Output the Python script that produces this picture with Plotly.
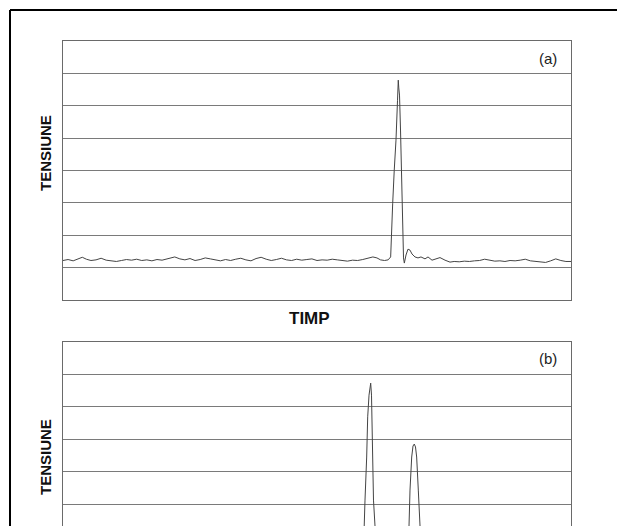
import plotly.graph_objects as go

# ---- Panel (a) data: time (0-100) vs voltage (grid units 0-8) ----
time_a = [0, 1.0, 2.0, 3.0, 3.8, 4.6, 5.5, 6.5, 7.5, 8.5, 9.5, 10.5, 11.5, 12.5, 13.5, 14.5,
          15.5, 16.5, 17.5, 18.5, 19.5, 20.5, 21.0, 22.0, 23.0, 24.0, 25.0, 26.0, 27.0, 28.0,
          29.0, 30.0, 31.0, 32.0, 33.0, 34.0, 35.0, 36.0, 37.0, 38.0, 39.0, 40.0, 41.0, 42.0,
          43.0, 44.0, 45.0, 46.0, 47.0, 48.0, 49.0, 50.0, 51.0, 52.0, 53.0, 54.0, 55.0, 56.0,
          57.0, 58.0, 59.0, 60.0, 61.0, 61.8, 62.5, 63.3, 64.0, 64.5, 64.7, 64.9, 65.2, 65.55,
          65.85, 66.0, 66.1, 66.24, 66.44, 66.63, 66.83, 67.03, 67.19, 67.52, 67.91, 68.31,
          68.7, 69.29, 69.88, 70.47, 71.26, 71.85, 72.64, 73.43, 74.21, 75.2, 76.18, 77.0, 78.0,
          79.0, 80.0, 81.0, 82.0, 83.0, 84.0, 85.0, 86.0, 87.0, 88.0, 89.0, 90.0, 91.0, 92.0,
          93.0, 94.0, 95.0, 96.0, 97.0, 98.0, 99.0, 100.0]
volt_a = [1.22, 1.25, 1.21, 1.27, 1.32, 1.26, 1.22, 1.24, 1.29, 1.23, 1.20, 1.19, 1.22, 1.25,
          1.23, 1.26, 1.22, 1.24, 1.21, 1.25, 1.23, 1.27, 1.31, 1.33, 1.27, 1.24, 1.28, 1.22,
          1.25, 1.30, 1.27, 1.23, 1.21, 1.25, 1.22, 1.26, 1.29, 1.24, 1.21, 1.28, 1.32, 1.26,
          1.22, 1.25, 1.29, 1.24, 1.22, 1.26, 1.23, 1.25, 1.27, 1.22, 1.24, 1.23, 1.26, 1.24,
          1.21, 1.20, 1.23, 1.22, 1.25, 1.29, 1.33, 1.30, 1.24, 1.22, 1.24, 1.33, 1.94, 2.99,
          4.00, 4.94, 6.17, 6.79, 6.55, 6.33, 5.25, 3.70, 2.16, 1.30, 1.14, 1.39, 1.57, 1.54,
          1.42, 1.33, 1.30, 1.33, 1.27, 1.33, 1.23, 1.27, 1.31, 1.23, 1.17, 1.19, 1.18, 1.20,
          1.19, 1.21, 1.22, 1.26, 1.22, 1.20, 1.21, 1.19, 1.22, 1.21, 1.23, 1.26, 1.21, 1.20,
          1.18, 1.16, 1.21, 1.27, 1.22, 1.19, 1.19]

# ---- Panel (b) data ----
time_b = [0, 10, 20, 30, 40, 50, 55, 58.86, 59.15, 59.35, 59.45, 59.78, 59.98, 60.24, 60.57,
          60.73, 60.83, 60.96, 61.12, 61.42, 61.71, 62.01, 64, 67.52, 67.91, 68.11, 68.31,
          68.64, 68.9, 69.15, 69.39, 69.62, 69.94, 70.18, 70.47, 70.87, 75, 85, 100]
volt_b = [1.22, 1.25, 1.21, 1.24, 1.23, 1.26, 1.22, 1.25, 1.60, 2.32, 3.12, 4.45, 5.69, 6.36,
          6.73, 6.36, 5.69, 4.45, 3.12, 2.32, 1.50, 1.20, 1.24, 1.25, 1.80, 2.32, 3.43, 4.45,
          4.79, 4.85, 4.76, 4.45, 3.43, 2.32, 1.70, 1.25, 1.22, 1.21, 1.20]

# page body has an 8px margin; figure sized to fill the rest of the window
OFF = 8
W, H = 625 - OFF, 526 - OFF
def px(x):
    return (x - OFF) / W
def py(y):
    return 1 - (y - OFF) / H

grid_col = "#7a7a7a"
frame_col = "#6a6a6a"
trace_col = "#444444"

fig = go.Figure()
fig.add_trace(go.Scatter(x=time_a, y=volt_a, mode="lines", xaxis="x", yaxis="y",
                         line=dict(color=trace_col, width=1), showlegend=False))
fig.add_trace(go.Scatter(x=time_b, y=volt_b, mode="lines", xaxis="x2", yaxis="y2",
                         line=dict(color=trace_col, width=1), showlegend=False))

xdom = [px(63), px(571)]
common_x = dict(range=[0, 100], showgrid=False, zeroline=False, showticklabels=False,
                ticks="", showline=True, linecolor=frame_col, linewidth=1)
common_y = dict(showgrid=True, gridcolor=grid_col, gridwidth=1, dtick=1, tick0=0,
                zeroline=False, showticklabels=False, ticks="", showline=True,
                linecolor=frame_col, linewidth=1, mirror=True)

fig.update_layout(
    width=W, height=H,
    margin=dict(l=0, r=0, t=0, b=0),
    paper_bgcolor="white", plot_bgcolor="white",
    xaxis=dict(domain=xdom, anchor="y", mirror=True, **common_x),
    yaxis=dict(domain=[py(300), py(41)], range=[0, 8], anchor="x", **common_y),
    xaxis2=dict(domain=xdom, anchor="y2", side="top", mirror=False, **common_x),
    yaxis2=dict(domain=[0, py(342)], range=[8 - (526 - 342) / 32.4, 8], anchor="x2", **common_y),
    font=dict(family="Liberation Sans, Arial, sans-serif", color="#111"),
)

ann = [
    dict(text="(a)", x=px(548), y=py(58), font=dict(size=15, color="#222")),
    dict(text="(b)", x=px(548), y=py(358), font=dict(size=15, color="#222")),
    dict(text="<b>TIMP</b>", x=px(309.5), y=py(318), font=dict(size=17, color="#111")),
    dict(text="<b>TENSIUNE</b>", x=px(45), y=py(153), textangle=-90, font=dict(size=15, color="#111")),
    dict(text="<b>TENSIUNE</b>", x=px(45), y=py(457), textangle=-90, font=dict(size=15, color="#111")),
]
for a in ann:
    a.update(xref="paper", yref="paper", showarrow=False, xanchor="center", yanchor="middle")
fig.update_layout(annotations=ann)

# outer border of the scanned figure (top and left edges visible)
fig.add_shape(type="line", xref="paper", yref="paper", x0=px(10), x1=1.05, y0=py(10), y1=py(10),
              line=dict(color="black", width=2))
fig.add_shape(type="line", xref="paper", yref="paper", x0=px(10), x1=px(10), y0=py(10), y1=-0.05,
              line=dict(color="black", width=2))

fig.write_html("out.html")
